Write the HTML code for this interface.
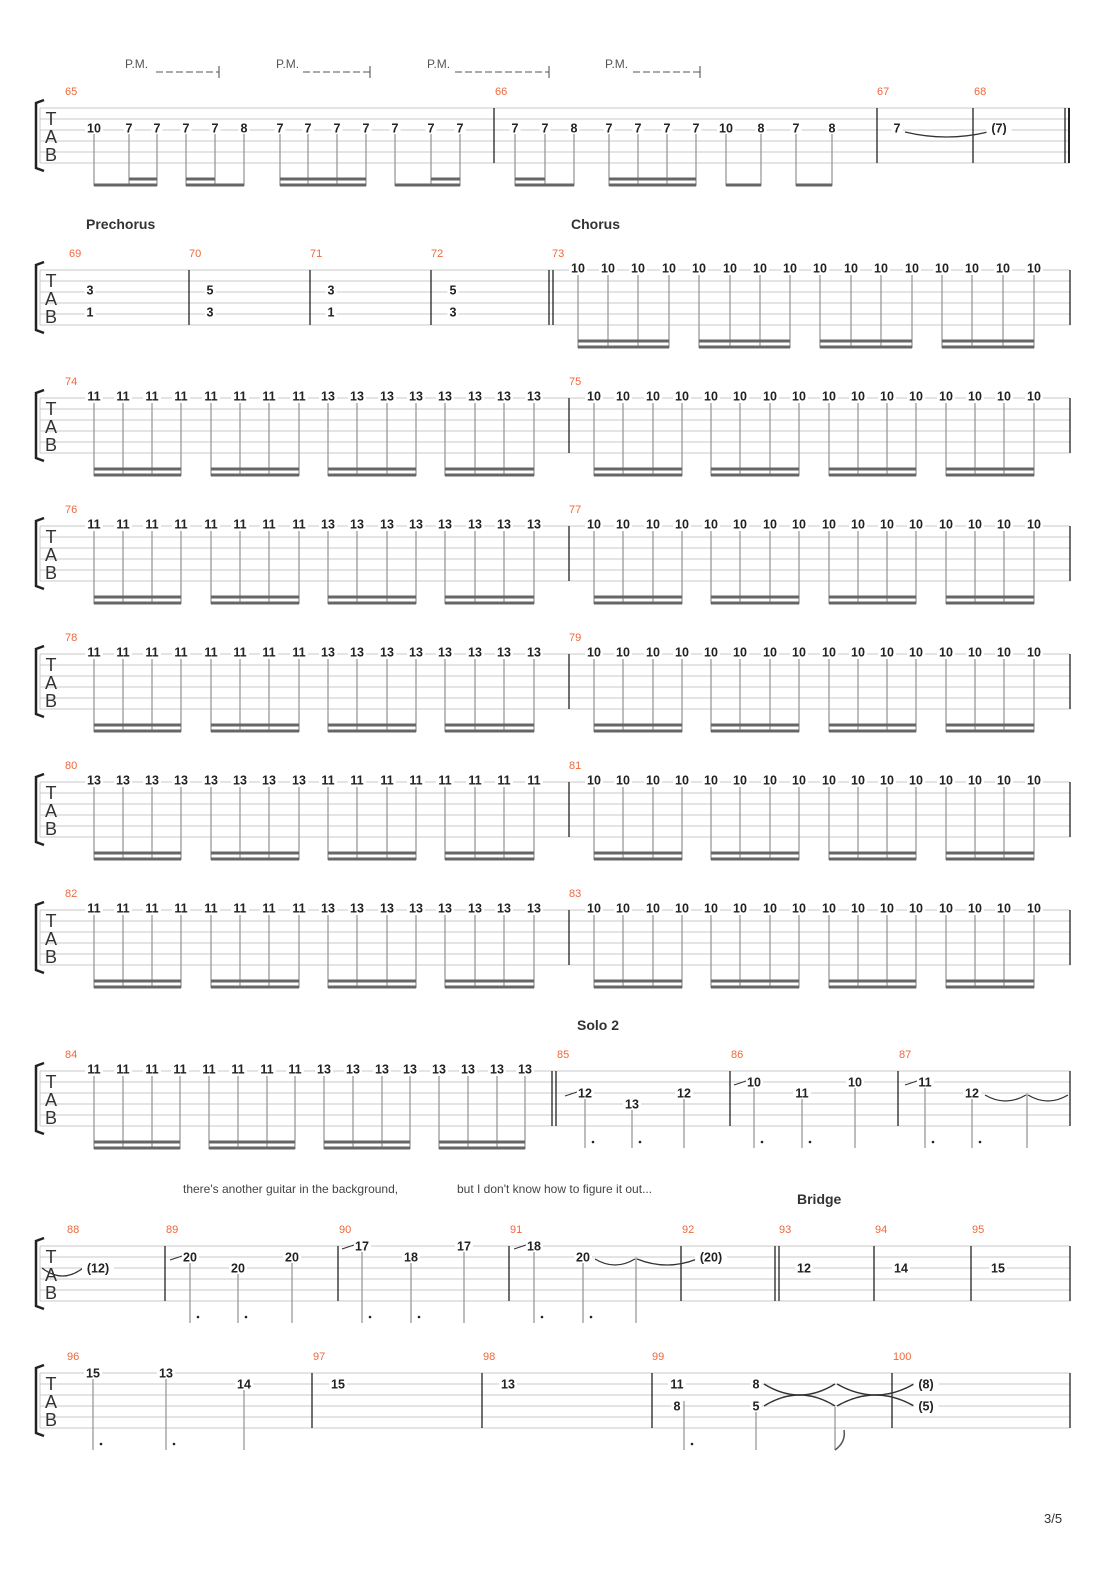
<!DOCTYPE html>
<html><head><meta charset="utf-8"><style>
html,body{margin:0;padding:0;background:#fff;}
svg{display:block;}
text{font-family:"Liberation Sans","DejaVu Sans",sans-serif;}
</style></head><body>
<svg id="s" width="1110" height="1570" xmlns="http://www.w3.org/2000/svg">
<text x="125" y="68" font-size="12" fill="#555">P.M.</text>
<text x="276" y="68" font-size="12" fill="#555">P.M.</text>
<text x="427" y="68" font-size="12" fill="#555">P.M.</text>
<text x="605" y="68" font-size="12" fill="#555">P.M.</text>
<text x="86" y="229" font-size="14" font-weight="bold" fill="#333">Prechorus</text>
<text x="571" y="229" font-size="14" font-weight="bold" fill="#333">Chorus</text>
<text x="577" y="1030" font-size="14" font-weight="bold" fill="#333">Solo 2</text>
<text x="797" y="1204" font-size="14" font-weight="bold" fill="#333">Bridge</text>
<text x="183" y="1193" font-size="12" fill="#444">there's another guitar in the background,</text>
<text x="457" y="1193" font-size="12" fill="#444">but I don't know how to figure it out...</text>
<text x="1044" y="1523" font-size="13" fill="#333">3/5</text>
</svg>
<script>
var S=document.getElementById('s'),o='';
function L(x1,y1,x2,y2,c,w,d){o+='<line x1="'+x1+'" y1="'+y1+'" x2="'+x2+'" y2="'+y2+'" stroke="'+c+'" stroke-width="'+w+'"'+(d?' stroke-dasharray="'+d+'"':'')+'/>';}
function T(x,y,t,sz,c,w,a){o+='<text x="'+x+'" y="'+y+'" font-size="'+sz+'" fill="'+c+'"'+(w?' font-weight="bold"':'')+(a?' text-anchor="'+a+'"':'')+'>'+t+'</text>';}
function staff(top,x1){x1=x1||1070;for(var i=0;i<6;i++)L(40,top+11*i,x1,top+11*i,'#c8c8c8',1);
 L(40,top,40,top+55,'#c8c8c8',1);
 o+='<path d="M44 '+(top-8)+' L36 '+(top-5)+' L36 '+(top+60)+' L44 '+(top+63)+'" fill="none" stroke="#222" stroke-width="2.5"/>';
 T(51,top+17,'T',18,'#333',0,'middle');T(51,top+35,'A',18,'#333',0,'middle');T(51,top+53,'B',18,'#333',0,'middle');}
function bar(x,top){L(x,top,x,top+55,'#222',1.3);}
function mn(x,top,n){T(x,top-13,n,11,'#f0673a',0,'start');}
function note(x,y,t){var w=t.length*7+4;o+='<rect x="'+(x-w/2)+'" y="'+(y-6)+'" width="'+w+'" height="12" fill="#fff"/>';T(x,y+4.5,t,12.5,'#222',1,'middle');}
function stem(x,y1,y2){L(x,y1,x,y2,'#999',1.3);}
function beam(x1,x2,y){L(x1,y,x2,y,'#666',3);}
function tie(x1,x2,y,d){o+='<path d="M'+x1+' '+y+' Q'+((x1+x2)/2)+' '+(y+(d||14))+' '+x2+' '+y+'" fill="none" stroke="#333" stroke-width="1.3"/>';}
function dot(x,y){o+='<circle cx="'+x+'" cy="'+y+'" r="1.3" fill="#222"/>';}
[[156,219],[303,370],[455,549],[633,700]].forEach(function(p){L(p[0],72,p[1],72,'#777',1.3,'7,3');L(p[1],66,p[1],78,'#444',1);});
var t=108;staff(t);mn(65,t,'65');mn(495,t,'66');mn(877,t,'67');mn(974,t,'68');
bar(494,t);bar(877,t);bar(973,t);bar(1065,t);L(1069,t,1069,t+55,'#222',2);
var n1=[[94,'10'],[129,'7'],[157,'7'],[186,'7'],[215,'7'],[244,'8'],[280,'7'],[308,'7'],[337,'7'],[366,'7'],[395,'7'],[431,'7'],[460,'7'],[515,'7'],[545,'7'],[574,'8'],[609,'7'],[638,'7'],[667,'7'],[696,'7'],[726,'10'],[761,'8'],[796,'7'],[832,'8']];
n1.forEach(function(n){stem(n[0],t+26,t+78);});
n1.forEach(function(n){note(n[0],t+20,n[1]);});
[[94,157],[186,244],[280,366],[395,460],[515,574],[609,696],[726,761],[796,832]].forEach(function(b){beam(b[0],b[1],t+77);});
[[129,157],[186,215],[280,366],[431,460],[515,545],[609,696]].forEach(function(b){beam(b[0],b[1],t+71);});
note(897,t+20,'7');tie(905,988,t+24,10);note(999,t+20,'(7)');
t=270;staff(t);mn(69,t,'69');mn(189,t,'70');mn(310,t,'71');mn(431,t,'72');mn(552,t,'73');
bar(189,t);bar(310,t);bar(431,t);bar(549,t);bar(553,t);bar(1070,t);
[[90,'3','1'],[210,'5','3'],[331,'3','1'],[453,'5','3']].forEach(function(n){note(n[0],t+20,n[1]);note(n[0],t+42,n[2]);});
var xs=[578,608,638,669,699,730,760,790,820,851,881,912,942,972,1003,1034];
xs.forEach(function(x){stem(x,t+5,t+78);});xs.forEach(function(x){note(x,t-2,'10');});
for(var g=0;g<4;g++){beam(xs[g*4],xs[g*4+3],t+71);beam(xs[g*4],xs[g*4+3],t+77);}
var xa=[94,123,152,181,211,240,269,299,328,357,387,416,445,475,504,534],xb=[594,623,653,682,711,740,770,799,829,858,887,916,946,975,1004,1034];
function sys16(top,m,a){staff(top);mn(65,top,m);mn(569,top,String(+m+1));bar(569,top);bar(1070,top);
 var all=xa.concat(xb);all.forEach(function(x){stem(x,top+5,top+78);});
 xa.forEach(function(x,i){note(x,top-2,a[i]);});xb.forEach(function(x){note(x,top-2,'10');});
 for(var g=0;g<8;g++){beam(all[g*4],all[g*4+3],top+71);beam(all[g*4],all[g*4+3],top+77);}}
var A=[],B=[];for(var i=0;i<8;i++){A.push('11');B.push('13');}
var AB=A.concat(B),BA=B.concat(A);
sys16(398,'74',AB);sys16(526,'76',AB);sys16(654,'78',AB);sys16(782,'80',BA);sys16(910,'82',AB);
t=1071;staff(t);mn(65,t,'84');mn(557,t,'85');mn(731,t,'86');mn(899,t,'87');
bar(552,t);bar(556,t);bar(730,t);bar(898,t);bar(1070,t);
var x8=[94,123,152,180,209,238,267,295,324,353,382,410,439,468,497,525];
x8.forEach(function(x){stem(x,t+5,t+78);});x8.forEach(function(x,i){note(x,t-2,AB[i]);});
for(var g=0;g<4;g++){beam(x8[g*4],x8[g*4+3],t+71);beam(x8[g*4],x8[g*4+3],t+77);}
function sn(x,s,txt,top,d,sl,bot){stem(x,top+11*s+6,bot);note(x,top+11*s,txt);if(d)dot(x+8,bot-6);if(sl)L(x-20,top+11*s+3,x-8,top+11*s-1,'#333',1);}
var bt=t+77;
sn(585,2,'12',t,1,1,bt);sn(632,3,'13',t,1,0,bt);sn(684,2,'12',t,0,0,bt);
sn(754,1,'10',t,1,1,bt);sn(802,2,'11',t,1,0,bt);sn(855,1,'10',t,0,0,bt);
sn(925,1,'11',t,1,1,bt);sn(972,2,'12',t,1,0,bt);stem(1027,t+22,bt);tie(985,1026,t+24,12);tie(1028,1068,t+24,12);
t=1246;staff(t);mn(67,t,'88');mn(166,t,'89');mn(339,t,'90');mn(510,t,'91');mn(682,t,'92');mn(779,t,'93');mn(875,t,'94');mn(972,t,'95');
bar(165,t);bar(338,t);bar(509,t);bar(681,t);bar(775,t);bar(779,t);bar(874,t);bar(971,t);bar(1070,t);
tie(42,83,t+22,16);note(98,t+22,'(12)');
bt=t+77;
sn(190,1,'20',t,1,1,bt);sn(238,2,'20',t,1,0,bt);sn(292,1,'20',t,0,0,bt);
sn(362,0,'17',t,1,1,bt);sn(411,1,'18',t,1,0,bt);sn(464,0,'17',t,0,0,bt);
sn(534,0,'18',t,1,1,bt);sn(583,1,'20',t,1,0,bt);stem(636,t+11,bt);tie(595,635,t+13,12);tie(637,697,t+13,12);
note(711,t+11,'(20)');note(804,t+22,'12');note(901,t+22,'14');note(998,t+22,'15');
t=1373;staff(t);mn(67,t,'96');mn(313,t,'97');mn(483,t,'98');mn(652,t,'99');mn(893,t,'100');
bar(312,t);bar(482,t);bar(652,t);bar(892,t);bar(1070,t);
bt=t+77;
sn(93,0,'15',t,1,0,bt);sn(166,0,'13',t,1,0,bt);sn(244,1,'14',t,0,0,bt);
note(338,t+11,'15');note(508,t+11,'13');
stem(684,t+28,bt);dot(692,bt-6);note(677,t+11,'11');note(677,t+33,'8');
stem(756,t+28,bt);note(756,t+11,'8');note(756,t+33,'5');
[[764,835],[837,914]].forEach(function(p){var m=(p[0]+p[1])/2;
o+='<path d="M'+p[0]+' '+(t+11)+' Q'+m+' '+(t+33)+' '+p[1]+' '+(t+11)+'" fill="none" stroke="#333" stroke-width="1.4"/>';
o+='<path d="M'+p[0]+' '+(t+33)+' Q'+m+' '+(t+11)+' '+p[1]+' '+(t+33)+'" fill="none" stroke="#333" stroke-width="1.4"/>';});
stem(835,t+34,bt);o+='<path d="M835 '+bt+' Q846 '+(bt-8)+' 844 '+(bt-20)+'" fill="none" stroke="#555" stroke-width="1.5"/>';
note(926,t+11,'(8)');note(926,t+33,'(5)');
S.insertAdjacentHTML('beforeend',o);
</script>
</body></html>
